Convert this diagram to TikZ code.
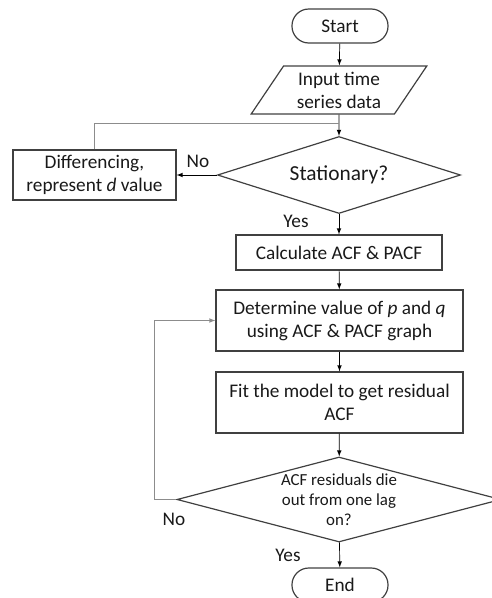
\documentclass[tikz,border=0pt]{standalone}
\usepackage{fontspec}
\setmainfont{Carlito}
\usetikzlibrary{shapes.geometric, arrows, positioning}

\begin{document}
\begin{tikzpicture}[
  x=0.025cm, y=-0.025cm,
  base/.style={draw=black!75, line width=0.85pt, text=black!90, align=center,
               inner sep=0pt, font=\fontsize{13.7}{16.4}\selectfont},
  term/.style={base, rectangle, rounded corners=0.42cm, minimum width=2.4cm, minimum height=0.85cm},
  io/.style={base, trapezium, trapezium left angle=56, trapezium right angle=124,
             trapezium stretches=true, minimum width=4.4cm, minimum height=1.2cm},
  box/.style={base, rectangle},
  dec/.style={base, diamond},
  arr/.style={->, >=latex, line width=0.5pt},
  back/.style={draw=black!45, line width=0.6pt},
  lbl/.style={font=\fontsize{13.7}{16.4}\selectfont, text=black!90}
]
\useasboundingbox (0,0) rectangle (492,598);

% Main column
\node[term] (start) at (340,26) {Start};
\node[io]   (input) at (339,90) {Input time\\series data};
\node[dec, font=\fontsize{15.2}{18}\selectfont, minimum width=6.075cm, minimum height=1.925cm,
      aspect=3.2] (stat) at (339,175) {Stationary?};
\node[box, minimum width=5.15cm, minimum height=0.875cm] (calc) at (339,252.5) {Calculate ACF \& PACF};
\node[box, minimum width=6.175cm, minimum height=1.525cm] (det) at (339.5,320.5)
  {Determine value of \textit{p} and \textit{q}\\using ACF \& PACF graph};
\node[box, minimum width=6.175cm, minimum height=1.525cm] (fit) at (339.5,402.5)
  {Fit the model to get residual\\ACF};
\node[dec, font=\fontsize{12}{14.2}\selectfont, inner sep=-3pt,
      minimum width=8.1cm, minimum height=2.125cm, aspect=3.8] (chk) at (339,499.5)
  {ACF residuals die\\out from one lag\\on?};
\node[term] (end) at (340,585) {End};

% Side box
\node[box, minimum width=4.075cm, minimum height=1.25cm] (diff) at (94.5,175)
  {Differencing,\\represent \textit{d} value};

% Helper points
\coordinate (join)  at (339,123);
\coordinate (loopx) at (154,0);

% Arrows
\draw[arr] (start) -- (input);
\draw[arr] (input) -- (stat);
\draw[arr] (stat.west) -- (diff.east);
\draw[arr] (stat) -- (calc);
\draw[arr] (calc) -- (det);
\draw[arr] (det) -- (fit);
\draw[arr] (fit) -- (chk);
\draw[arr] (chk) -- (end);
\draw[back] (diff.north) |- (join);
\draw[back, arr, draw=black!45] (chk.west) -- (chk.west -| loopx) |- (det.west);

% Labels
\node[lbl] (no1)  at (198,161) {No};
\node[lbl] (yes1) at (296,221) {Yes};
\node[lbl] (no2)  at (174,519) {No};
\node[lbl] (yes2) at (288,555) {Yes};
\end{tikzpicture}
\end{document}
